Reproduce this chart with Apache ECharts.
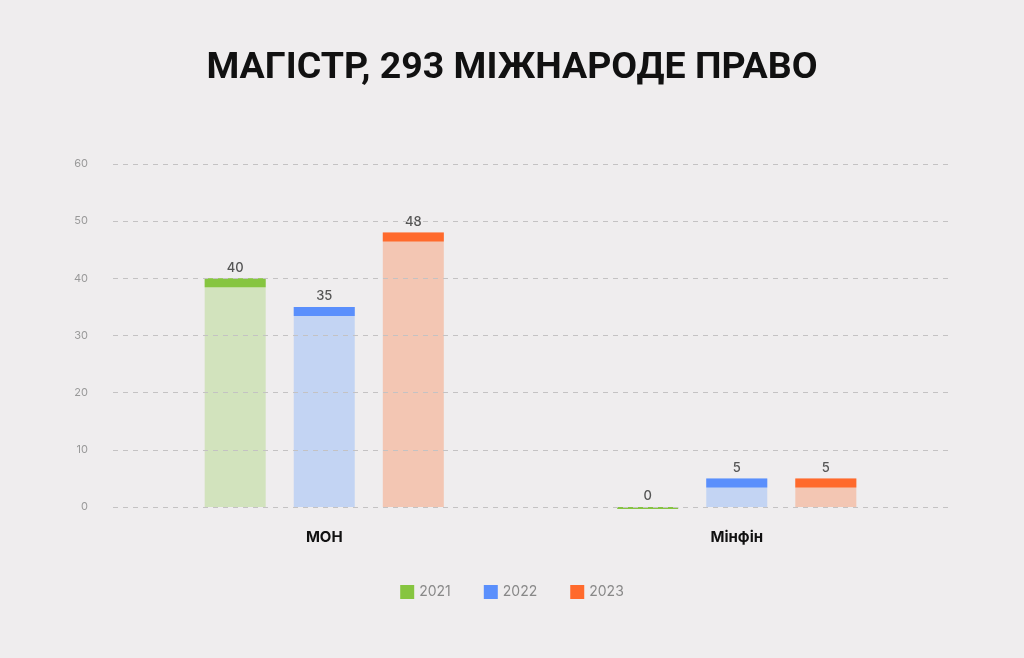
<!DOCTYPE html>
<html>
<head>
<meta charset="utf-8">
<script src="https://cdn.jsdelivr.net/npm/echarts@6/dist/echarts.min.js"></script>
<style>
  html,body{margin:0;padding:0;background:#efedee;}
  #chart{width:1024px;height:658px;}
</style>
</head>
<body>
<div id="chart"></div>
<script>
const categories = ["МОН", "Мінфін"];
const years = ["2021", "2022", "2023"];
const values2021 = [40, 0];
const values2022 = [35, 5];
const values2023 = [48, 5];
const yTicks = [0, 10, 20, 30, 40, 50, 60];

const capColors = ["#86c540", "#5a8ffc", "#ff6a2c"];
const fillColors = ["#d2e3bd", "#c3d4f3", "#f3c6b3"];
const seriesValues = [values2021, values2022, values2023];

const chart = echarts.init(document.getElementById("chart"));

// grid 0 carries the dashed lines and tick labels, grid 1 the bars
const barSeries = years.map((y, i) => ({
  name: y,
  type: "bar",
  xAxisIndex: 1, yAxisIndex: 1,
  data: seriesValues[i],
  barWidth: 61,
  barGap: "46%",
  itemStyle: {color: fillColors[i]},
  label: {show: true, position: "top", distance: 4, color: "#555", fontSize: 13, fontWeight: 500,
    fontFamily: "Inter"},
  z: 2
}));

const capSeries = years.map((y, i) => ({
  name: y,
  type: "pictorialBar",
  xAxisIndex: 1, yAxisIndex: 1,
  data: seriesValues[i].map(v => ({value: v, symbolSize: v === 0 ? [61, 2] : [61, 9]})),
  symbol: "rect",
  symbolPosition: "end",
  barWidth: 61,
  barGap: "46%",
  itemStyle: {color: capColors[i]},
  z: 3
}));

chart.setOption({
  backgroundColor: "#efedee",
  animation: false,
  title: {
    text: "МАГІСТР, 293 МІЖНАРОДЕ ПРАВО",
    left: "center", top: 45,
    textStyle: {fontFamily: "Roboto", fontSize: 37.5, fontWeight: 700, color: "#111"}
  },
  legend: {
    bottom: 54, left: "center",
    data: years.map((y, i) => ({name: y, itemStyle: {color: capColors[i]}})),
    icon: "rect", itemWidth: 14, itemHeight: 14, itemGap: 33,
    textStyle: {color: "#888", fontSize: 14, fontFamily: "Inter"}
  },
  grid: [
    {left: 113, right: 76, top: 164, bottom: 151},
    {left: 118, right: 81, top: 164, bottom: 151}
  ],
  xAxis: [
    {type: "category", gridIndex: 0, data: categories, show: false},
    {
      type: "category", gridIndex: 1, data: categories,
      axisLine: {show: false}, axisTick: {show: false},
      axisLabel: {color: "#111", fontSize: 15, fontWeight: 700, fontFamily: "Inter", margin: 23}
    }
  ],
  yAxis: [
    {
      type: "value", gridIndex: 0, min: 0, max: 60, interval: 10, z: 5,
      axisLine: {show: false}, axisTick: {show: false},
      axisLabel: {color: "#999", fontSize: 11, fontFamily: "Inter", margin: 25,
        formatter: v => yTicks.includes(v) ? String(v) : ""},
      splitLine: {lineStyle: {color: "#c4c2c3", type: [5, 5], width: 1}}
    },
    {
      type: "value", gridIndex: 1, min: 0, max: 60, interval: 10, show: false,
      splitLine: {show: false}
    }
  ],
  series: [...barSeries, ...capSeries]
});
</script>
</body>
</html>
